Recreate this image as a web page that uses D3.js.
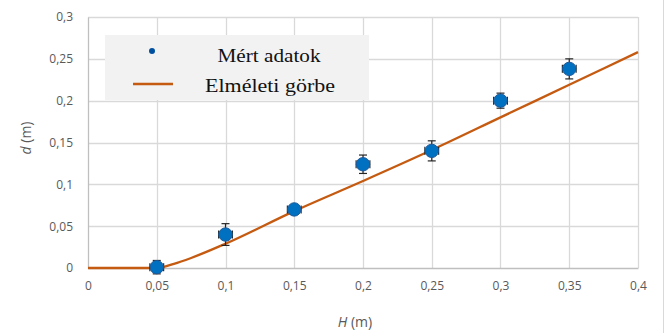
<!DOCTYPE html>
<html>
<head>
<meta charset="utf-8">
<script src="https://cdn.jsdelivr.net/npm/d3@7"></script>
<style>
  html, body { margin: 0; padding: 0; background: #fff; }
  svg { display: block; }
</style>
</head>
<body>
<svg id="chart" width="667" height="333"></svg>
<script>
// Measured depth d as a function of height H, with error bars
const measuredH = [0.05, 0.1, 0.15, 0.2, 0.25, 0.3, 0.35];
const measuredD = [0.001, 0.04, 0.07, 0.124, 0.14, 0.2, 0.238];
const errD = [0.008, 0.013, 0.004, 0.011, 0.012, 0.009, 0.012];
const errH = [0.005, 0.005, 0.005, 0.005, 0.005, 0.005, 0.005];

// Theoretical curve
const theoryH = [0, 0.05, 0.0625, 0.075, 0.1, 0.15, 0.2, 0.25, 0.3, 0.35, 0.4];
const theoryD = [0, 0, 0.005, 0.012, 0.029, 0.068, 0.104, 0.141, 0.18, 0.219, 0.258];

const xTicks = [0, 0.05, 0.1, 0.15, 0.2, 0.25, 0.3, 0.35, 0.4];
const yTicks = [0, 0.05, 0.1, 0.15, 0.2, 0.25, 0.3];

const legendLabels = ["Mért adatok", "Elméleti görbe"];

const svg = d3.select("#chart");
const W = 667, H = 333;
const m = { left: 88, right: 638, top: 17, bottom: 268 };

const fmt = v => (v === 0 ? "0" : String(+v.toFixed(2)).replace(".", ","));

const x = d3.scaleLinear().domain([0, 0.4]).range([m.left, m.right]);
const y = d3.scaleLinear().domain([0, 0.3]).range([m.bottom, m.top]);

// outer chart frame (right edge visible)
svg.append("line")
  .attr("x1", 663.5).attr("x2", 663.5).attr("y1", 0).attr("y2", H)
  .attr("stroke", "#d9d9d9").attr("stroke-width", 1);

// grid
const grid = svg.append("g");
grid.selectAll("line.h").data(yTicks.filter(v => v > 0)).join("line")
  .attr("x1", m.left).attr("x2", m.right)
  .attr("y1", d => Math.round(y(d)) + 0.5).attr("y2", d => Math.round(y(d)) + 0.5)
  .attr("stroke", "#d9d9d9").attr("stroke-width", 1.3);
grid.selectAll("line.v").data(xTicks.filter(v => v > 0)).join("line")
  .attr("y1", m.top).attr("y2", m.bottom)
  .attr("x1", d => Math.round(x(d)) + 0.5).attr("x2", d => Math.round(x(d)) + 0.5)
  .attr("stroke", "#d9d9d9").attr("stroke-width", 1.3);

// axes
const xAxis = svg.append("g")
  .attr("transform", `translate(0,${m.bottom})`)
  .call(d3.axisBottom(x).tickValues(xTicks).tickFormat(fmt).tickSize(0).tickPadding(13));
const yAxis = svg.append("g")
  .attr("transform", `translate(${m.left},0)`)
  .call(d3.axisLeft(y).tickValues(yTicks).tickFormat(fmt).tickSize(0).tickPadding(15));
[xAxis, yAxis].forEach(a => {
  a.select(".domain").attr("stroke", "#bfbfbf").attr("stroke-width", 1.3);
  a.selectAll("text")
    .attr("fill", "#595959")
    .style("font-family", "'Open Sans', sans-serif")
    .style("font-size", "12px");
});

// axis titles
svg.append("text")
  .attr("x", 355).attr("y", 327)
  .attr("text-anchor", "middle")
  .attr("fill", "#595959")
  .style("font-family", "'Open Sans', sans-serif").style("font-size", "14px")
  .call(t => { t.append("tspan").attr("font-style", "italic").text("H"); t.append("tspan").text(" (m)"); });
svg.append("text")
  .attr("transform", "translate(31,138) rotate(-90)")
  .attr("text-anchor", "middle")
  .attr("fill", "#595959")
  .style("font-family", "'Open Sans', sans-serif").style("font-size", "14px")
  .call(t => { t.append("tspan").attr("font-style", "italic").text("d"); t.append("tspan").text(" (m)"); });

// theoretical curve
const line = d3.line().x((d, i) => x(theoryH[i])).y(d => y(d)).curve(d3.curveMonotoneX);
svg.append("path")
  .datum(theoryD)
  .attr("d", line)
  .attr("fill", "none")
  .attr("stroke", "#c55a11")
  .attr("stroke-width", 2.3);

// error bars
const pts = measuredH.map((h, i) => ({ h, d: measuredD[i], ed: errD[i], eh: errH[i] }));
const eb = svg.append("g").attr("stroke", "#262626").attr("stroke-width", 1.2);
const cap = 4;
pts.forEach(p => {
  eb.append("line").attr("x1", x(p.h)).attr("x2", x(p.h)).attr("y1", y(p.d - p.ed)).attr("y2", y(p.d + p.ed));
  eb.append("line").attr("x1", x(p.h) - cap).attr("x2", x(p.h) + cap).attr("y1", y(p.d + p.ed)).attr("y2", y(p.d + p.ed));
  eb.append("line").attr("x1", x(p.h) - cap).attr("x2", x(p.h) + cap).attr("y1", y(p.d - p.ed)).attr("y2", y(p.d - p.ed));
  eb.append("line").attr("y1", y(p.d)).attr("y2", y(p.d)).attr("x1", x(p.h - p.eh)).attr("x2", x(p.h + p.eh));
  eb.append("line").attr("y1", y(p.d) - cap).attr("y2", y(p.d) + cap).attr("x1", x(p.h - p.eh)).attr("x2", x(p.h - p.eh));
  eb.append("line").attr("y1", y(p.d) - cap).attr("y2", y(p.d) + cap).attr("x1", x(p.h + p.eh)).attr("x2", x(p.h + p.eh));
});

// markers
svg.append("g").selectAll("circle").data(pts).join("circle")
  .attr("cx", p => x(p.h)).attr("cy", p => y(p.d)).attr("r", 6.7)
  .attr("fill", "#0070c0").attr("stroke", "#1f5a9a").attr("stroke-width", 1);

// legend
const legendWidths = [103, 130];
const lg = svg.append("g");
lg.append("rect").attr("x", 105).attr("y", 35).attr("width", 264).attr("height", 65).attr("fill", "#f2f2f2");
lg.append("circle").attr("cx", 152).attr("cy", 51).attr("r", 3).attr("fill", "#0050a0");
lg.append("line").attr("x1", 133).attr("x2", 173).attr("y1", 84).attr("y2", 84)
  .attr("stroke", "#c55a11").attr("stroke-width", 2.5);
lg.selectAll("text").data(legendLabels).join("text")
  .attr("x", (d, i) => 269 - legendWidths[i] / 2 + (i === 1 ? 1 : 0))
  .attr("y", (d, i) => 62 + i * 30)
  .attr("textLength", (d, i) => legendWidths[i])
  .attr("lengthAdjust", "spacingAndGlyphs")
  .attr("fill", "#111")
  .style("font-family", "'Liberation Serif', 'Times New Roman', serif").style("font-size", "19.5px")
  .text(d => d);
</script>
</body>
</html>
